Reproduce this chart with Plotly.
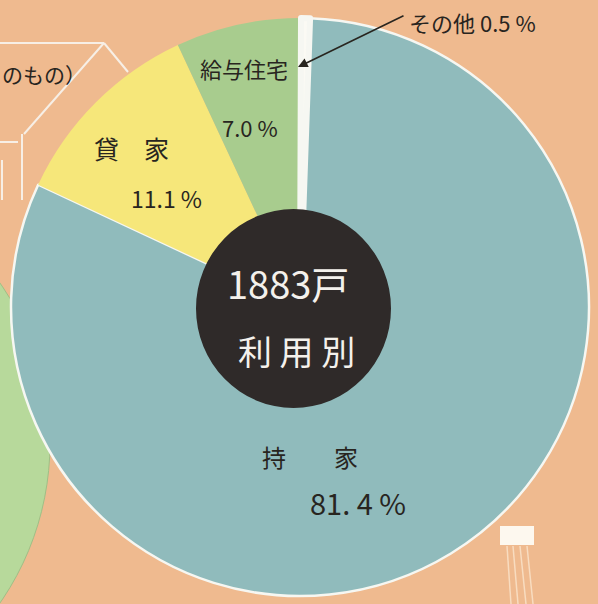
import plotly.graph_objects as go

# 住宅の利用別 (1883戸)
labels = ["持家", "貸家", "給与住宅", "その他"]
label_text = ["持　　家", "貸　家", "給与住宅", "その他"]
values = [81.4, 11.1, 7.0, 0.5]
total = "1883戸"
center_title = "利 用 別"

colors = ["#90bbbc", "#f6e77a", "#a8cc8e", "#fbfaf4"]
bg = "#efba8f"
ink = "#28251f"
W, H = 598, 604
font = "Noto Sans CJK JP"


def px(x):
    return x / W


def py(y):
    return 1 - y / H


fig = go.Figure()
fig.add_trace(go.Pie(
    labels=labels, values=values, sort=False, direction="clockwise",
    rotation=2, hole=0.3,
    marker=dict(colors=colors, line=dict(color="#f6f7f2", width=[2.5, 0, 0, 6])),
    textinfo="none", hoverinfo="label+percent", showlegend=False,
    domain=dict(x=[px(11), px(589)], y=[py(597), py(17)]),
))

shapes = []
# green circle peeking in at the left (part of the neighbouring chart)
shapes.append(dict(type="circle", xref="paper", yref="paper", layer="below",
                   x0=px(-512), x1=px(50), y0=py(724), y1=py(162),
                   fillcolor="#b7d99b", line=dict(color="#9fbf86", width=1)))
# dark centre disc
shapes.append(dict(type="circle", xref="paper", yref="paper", layer="above",
                   x0=px(196), x1=px(391), y0=py(408), y1=py(209),
                   fillcolor="#2f2a29", line=dict(width=0)))
# white guide lines at top left
wl = dict(color="#f7efe6", width=2)
for (x0, y0, x1, y1) in [(0, 43, 104, 43), (104, 43, 128, 72), (104, 43, 24, 134),
                         (0, 142, 18, 142), (22, 134, 22, 200), (2, 160, 2, 200)]:
    shapes.append(dict(type="line", xref="paper", yref="paper", layer="below",
                       x0=px(x0), y0=py(y0), x1=px(x1), y1=py(y1), line=wl))
# white tab and faint lines at bottom right
shapes.append(dict(type="rect", xref="paper", yref="paper", layer="below",
                   x0=px(500), x1=px(534), y0=py(545), y1=py(526),
                   fillcolor="#fdf8ef", line=dict(width=0)))
for xa, xb in [(507, 511), (513, 518), (520, 526), (527, 533)]:
    shapes.append(dict(type="line", xref="paper", yref="paper", layer="below",
                       x0=px(xa), y0=py(546), x1=px(xb), y1=py(604),
                       line=dict(color="#f8dcc0", width=1.5)))

ann = []


def txt(x, y, s, size, color=ink, xanchor="center"):
    ann.append(dict(x=px(x), y=py(y), xref="paper", yref="paper", text=s,
                    xanchor=xanchor, yanchor="middle", showarrow=False,
                    font=dict(family=font, size=size, color=color)))


# slice labels
txt(310, 456, label_text[0], 24)
txt(358, 502, f"{values[0]:.1f} %".replace(".", ". "), 29)
txt(131, 148, label_text[1], 25)
txt(166, 198, f"{values[1]:.1f} %", 23)
txt(244, 68, label_text[2], 22)
txt(250, 127, f"{values[2]:.1f} %", 22)
txt(472, 22, f"{labels[3]} {values[3]:.1f} %", 22)
ann.append(dict(x=px(298), y=py(67), xref="paper", yref="paper", text="",
                showarrow=True, ax=107, ay=-52, arrowhead=2, arrowsize=1.2,
                arrowwidth=1.6, arrowcolor=ink))
# centre
txt(288, 282, total, 38, color="#f4f1ec")
txt(296, 350, center_title, 34, color="#f4f1ec")
# caption of the neighbouring chart
txt(0, 74, "のもの）", 21, xanchor="left")

fig.update_layout(
    width=W, height=H, margin=dict(l=0, r=0, t=0, b=0),
    paper_bgcolor=bg, plot_bgcolor=bg,
    shapes=shapes, annotations=ann,
)
fig.write_html("out.html", config={"displayModeBar": False},
               post_script="document.body.style.margin='0';")
